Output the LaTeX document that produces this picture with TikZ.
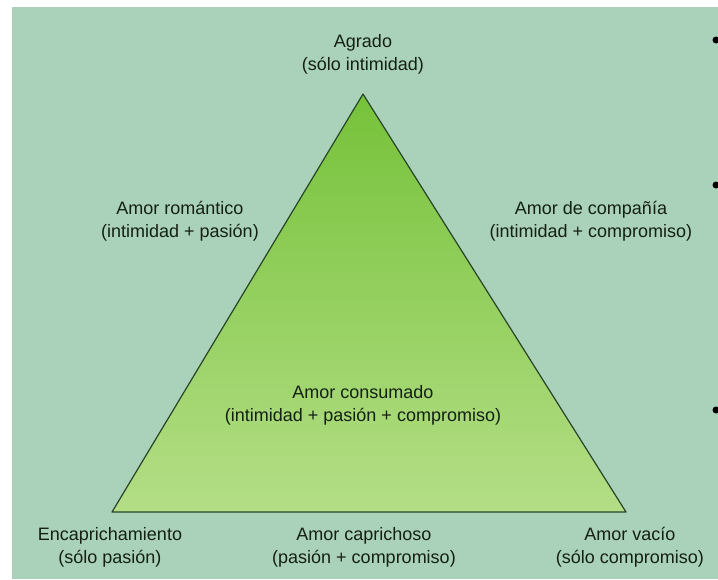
\documentclass[tikz,border=0pt]{standalone}
\usepackage{fontspec}
\setmainfont{Liberation Sans}
\usepackage{xcolor}

\definecolor{slidebg}{RGB}{170,210,186}
\definecolor{tritop}{RGB}{118,194,58}
\definecolor{tribot}{RGB}{180,222,134}
\definecolor{triedge}{RGB}{40,68,40}
\definecolor{ink}{RGB}{20,32,20}

\tikzset{
    lbl/.style={align=center, text=ink, font=\fontsize{18}{23}\selectfont, inner sep=0pt}
}

\begin{document}
\begin{tikzpicture}[x=1pt, y=-1pt]
    \useasboundingbox (0,0) rectangle (718,579);
    \clip (0,0) rectangle (718,579);
    \fill[white] (0,0) rectangle (718,579);
    \fill[slidebg] (12,7) rectangle (718,579);

    % triangle corners
    \coordinate (top) at (363,94);
    \coordinate (left) at (112,512);
    \coordinate (right) at (626,512);
    \draw[triedge, line width=1.2pt, line join=round, top color=tritop, bottom color=tribot]
        (top) -- (left) -- (right) -- cycle;

    % bullets of the slide
    \foreach \y in {40, 185, 410} {
        \fill[black] (716,\y) circle (3.5);
    }

    \node[lbl] (agrado) at (363,54) {Agrado\\(sólo intimidad)};
    \node[lbl] (romantico) at (180,221) {Amor romántico\\(intimidad + pasión)};
    \node[lbl] (compania) at (591,221) {Amor de compañía\\(intimidad + compromiso)};
    \node[lbl] (consumado) at (363,405) {Amor consumado\\(intimidad + pasión + compromiso)};
    \node[lbl] (encapricha) at (110,547) {Encaprichamiento\\(sólo pasión)};
    \node[lbl] (caprichoso) at (364,547) {Amor caprichoso\\(pasión + compromiso)};
    \node[lbl] (vacio) at (630,547) {Amor vacío\\(sólo compromiso)};
\end{tikzpicture}
\end{document}
